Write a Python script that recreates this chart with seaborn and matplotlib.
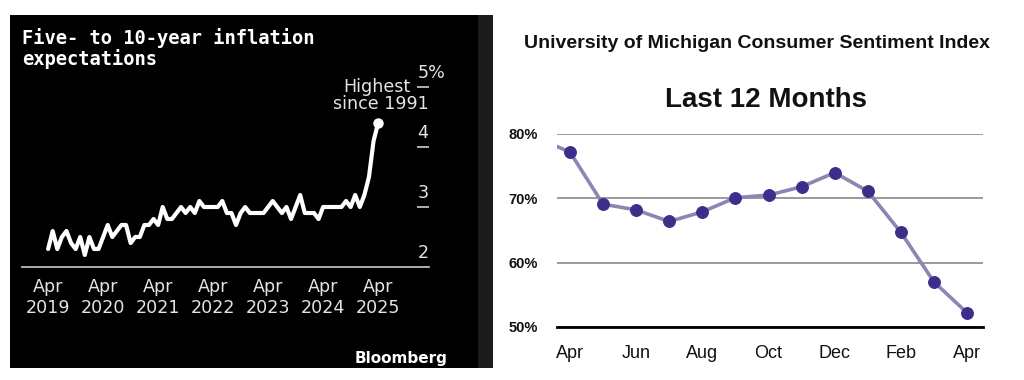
import matplotlib.pyplot as plt
import matplotlib.transforms as mtransforms
import numpy as np
import seaborn as sns
from matplotlib.patches import Rectangle

# five- to 10-year inflation expectations, monthly, Apr 2019 - Apr 2025 (%)
EXPECTATIONS = [2.3, 2.6, 2.3, 2.5, 2.6, 2.4, 2.3, 2.5, 2.2,
                2.5, 2.3, 2.3, 2.5, 2.7, 2.5, 2.6, 2.7, 2.7, 2.4, 2.5, 2.5,
                2.7, 2.7, 2.8, 2.7, 3.0, 2.8, 2.8, 2.9, 3.0, 2.9, 3.0, 2.9,
                3.1, 3.0, 3.0, 3.0, 3.0, 3.1, 2.9, 2.9, 2.7, 2.9, 3.0, 2.9,
                2.9, 2.9, 2.9, 3.0, 3.1, 3.0, 2.9, 3.0, 2.8, 3.0, 3.2, 2.9,
                2.9, 2.9, 2.8, 3.0, 3.0, 3.0, 3.0, 3.0, 3.1, 3.0, 3.2, 3.0,
                3.2, 3.5, 4.1, 4.4]
EXP_FIRST_YEAR = 2019
EXP_TICK_YEARS = [2019, 2020, 2021, 2022, 2023, 2024, 2025]
EXP_Y_TICKS = [2, 3, 4, 5]

# consumer sentiment, Mar 2024 - Apr 2025 (Mar 2024 only feeds the line entering at the left)
SENTIMENT_MONTHS = ["Mar", "Apr", "May", "Jun", "Jul", "Aug", "Sep", "Oct",
                    "Nov", "Dec", "Jan", "Feb", "Mar", "Apr"]
SENTIMENT = [79.4, 77.2, 69.1, 68.2, 66.4, 67.9, 70.1, 70.5, 71.8, 74.0, 71.1, 64.7, 57.0, 52.2]
SENTIMENT_Y_TICKS = [50, 60, 70, 80]

W, H = 1024, 380


def box(x0, y0, x1, y1):
    # pixel box (top-left origin) -> figure fraction rect
    return [x0 / W, 1 - y1 / H, (x1 - x0) / W, (y1 - y0) / H]


sns.set_theme(style="white")
plt.rcParams['font.family'] = ['DejaVu Sans']

fig = plt.figure(figsize=(W / 100, H / 100), dpi=100)
fig.patch.set_facecolor('white')

# black Bloomberg panel
fig.patches.append(Rectangle((10 / W, 1 - 368 / H), 468 / W, 353 / H, transform=fig.transFigure,
                             facecolor='black', edgecolor='none', zorder=-2))
fig.patches.append(Rectangle((478 / W, 1 - 368 / H), 15 / W, 353 / H, transform=fig.transFigure,
                             facecolor='#1b1b1b', edgecolor='none', zorder=-2))

# ---- left: inflation expectations ----
ax1 = fig.add_axes(box(22, 87, 429, 267))
ax1.set_facecolor('none')
months = np.arange(len(EXPECTATIONS))
sns.lineplot(x=months, y=EXPECTATIONS, ax=ax1, color='white', linewidth=3.0)
ax1.plot(months[-1], EXPECTATIONS[-1], 'o', color='white', markersize=6.5, zorder=5)

ax1.set_xlim(-5.7, 83.1)
ax1.set_ylim(2, 5)
for side in ['top', 'left', 'right']:
    ax1.spines[side].set_visible(False)
ax1.spines['bottom'].set_color('#bdbdbd')
ax1.spines['bottom'].set_linewidth(1.3)

ax1.set_xticks([12 * (y - EXP_FIRST_YEAR) for y in EXP_TICK_YEARS],
               labels=[f"Apr\n{y}" for y in EXP_TICK_YEARS])
ax1.tick_params(axis='x', colors='#bdbdbd', labelcolor='#e4e4e4', length=5, width=1.2,
                labelsize=12.6, pad=3)
ax1.yaxis.tick_right()
ax1.set_yticks(EXP_Y_TICKS[1:])
ax1.tick_params(axis='y', direction='in', length=9, width=1.2, colors='#cfcfcf',
                labelright=False)

trans = mtransforms.blended_transform_factory(ax1.transAxes, ax1.transData)
for v in EXP_Y_TICKS:
    label = f"{v}%" if v == EXP_Y_TICKS[-1] else str(v)
    ax1.annotate(label, xy=(0.972, v), xycoords=trans, xytext=(0, 3.5), textcoords='offset points',
                 ha='left', va='bottom', color='#e4e4e4', fontsize=12.6)
ax1.text(0.955, 5.0, "Highest", transform=trans, ha='right', va='center',
         color='#e4e4e4', fontsize=12.6)
ax1.text(1.0, 4.72, "since 1991", transform=trans, ha='right', va='center',
         color='#e4e4e4', fontsize=12.6)

fig.text(22 / W, 1 - 28 / H, "Five- to 10-year inflation\nexpectations", ha='left', va='top',
         family='DejaVu Sans Mono', fontweight='bold', fontsize=13.5, color='white', linespacing=1.05)
fig.text(448 / W, 1 - 358 / H, "Bloomberg", ha='right', va='center', fontweight='bold',
         fontsize=11, color='white')

# ---- right: consumer sentiment ----
ax2 = fig.add_axes(box(557, 134, 983, 327))
xs = np.arange(len(SENTIMENT)) - 1
sns.lineplot(x=xs, y=SENTIMENT, ax=ax2, color='#8c86b4', linewidth=2.6, marker='o',
             markersize=8.5, markerfacecolor='#3b2f8a', markeredgecolor='#3b2f8a')
ax2.set_xlim(-0.39, 12.48)
ax2.set_ylim(50, 80)
ax2.yaxis.grid(True, color='#9a9a9a', linewidth=1.4)
ax2.set_axisbelow(True)
for side in ['top', 'left', 'right']:
    ax2.spines[side].set_visible(False)
ax2.spines['bottom'].set_color('black')
ax2.spines['bottom'].set_linewidth(2)

ax2.set_yticks(SENTIMENT_Y_TICKS, labels=[f"{v}%" for v in SENTIMENT_Y_TICKS],
               family='Liberation Sans', fontweight='bold', fontsize=10.5)
ax2.set_xticks(range(0, len(SENTIMENT) - 1, 2), labels=SENTIMENT_MONTHS[1::2],
               family='Liberation Sans', fontsize=13)
ax2.tick_params(axis='y', length=0, pad=14, colors='#111111')
ax2.tick_params(axis='x', length=0, pad=13, colors='#111111')
ax2.set_xlabel('')
ax2.set_ylabel('')

fig.text(757 / W, 1 - 43 / H, "University of Michigan Consumer Sentiment Index", ha='center',
         va='center', family='Liberation Sans', fontweight='bold', fontsize=14, color='#111111')
fig.text(766 / W, 1 - 100 / H, "Last 12 Months", ha='center', va='center',
         family='Liberation Sans', fontweight='bold', fontsize=20, color='#111111')

fig.savefig('out.png', dpi=100)
